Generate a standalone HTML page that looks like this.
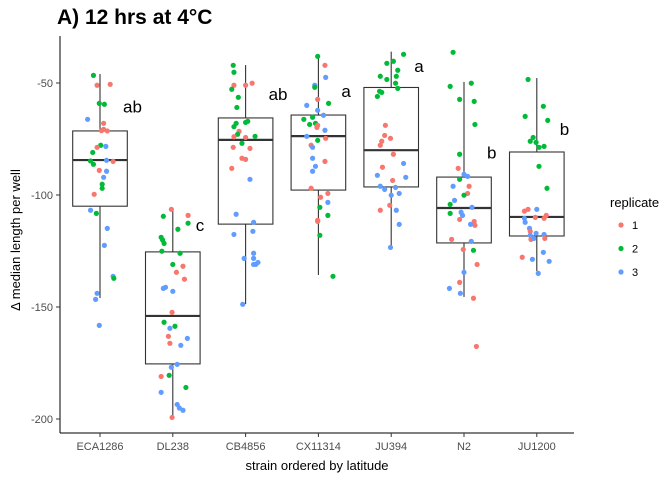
<!DOCTYPE html>
<html><head><meta charset="utf-8"><style>
body{margin:0;background:#fff;}
svg text{font-family:"Liberation Sans",sans-serif;}
</style></head><body>
<svg id="c" width="672" height="480" xmlns="http://www.w3.org/2000/svg"></svg>
<script>
const strains=["ECA1286","DL238","CB4856","CX11314","JU394","N2","JU1200"];
const yTicks=[-50,-100,-150,-200];
const whiskerHi=[-46,-107,-42,-38,-36,-49.5,-47.8];
const q3=[-71.4,-125.4,-65.6,-64.3,-52,-92,-80.8];
const med=[-84.4,-154,-75.4,-73.7,-80,-105.8,-109.8];
const q1=[-105,-175.4,-113,-97.8,-96.4,-121.4,-118.3];
const whiskerLo=[-146,-199.5,-148.7,-135.7,-123,-145.5,-134];
const letters=["ab","c","ab","a","a","b","b"];
const letterVal=[-60.5,-113.5,-55,-53.5,-42.5,-81,-70.5];
const repLabels=["1","2","3"];
const ptVal=[
[-46.6,-51,-50.6,-59.1,-59.5,-66.2,-68,-71.3,-70.7,-71.4,-77.8,-78.7,-78.3,-81,-84.5,-85,-84.8,-86.3,-89,-89.4,-92.1,-95.2,-97,-99.7,-106.8,-108.2,-114.9,-122.5,-136.3,-137.2,-143.9,-146.6,-158.2],
[-106.4,-109.1,-109.5,-112.6,-115.3,-118.9,-120.1,-121.6,-125.1,-126,-131,-131.8,-134.5,-137.6,-141.7,-141.2,-143,-152.4,-156.8,-158.6,-159.5,-163.1,-164,-166.2,-167.1,-175.6,-176.9,-181,-180.5,-185.9,-188.1,-193.5,-195.1,-196.1,-199.3],
[-42.1,-45.2,-51,-51,-50.1,-52.8,-56.4,-60.9,-67.6,-67.1,-68,-69.5,-71.6,-72.9,-74,-74.3,-73.8,-76.9,-78.7,-79.2,-83.6,-84.1,-88.1,-93,-108.6,-112.2,-117.6,-116.2,-128.3,-126,-128.3,-130.1,-131,-131,-148.8],
[-38.1,-42.1,-47.5,-51,-51.9,-57.3,-59.1,-60,-62.2,-64.4,-66.2,-65.3,-68.5,-68,-68.9,-69.8,-71.1,-73.8,-74.7,-75.6,-77.8,-78.7,-83.6,-85,-87.2,-89.4,-97,-101,-99.3,-103.3,-105.5,-109.1,-111.3,-111.8,-118,-136.3],
[-37.2,-41.2,-40.3,-44.3,-47,-47,-48.4,-50.1,-52.4,-53.7,-54.2,-56,-68.9,-73.4,-74.7,-76,-77.8,-81.8,-87.6,-85.9,-91.2,-92.1,-93.5,-96.1,-97.5,-96.6,-99.3,-100.1,-104.6,-106.8,-106.8,-113.1,-123.4],
[-36.3,-50.1,-51.5,-57.3,-58.2,-68.5,-81.8,-88.1,-90.8,-91.7,-93,-96.1,-96.1,-99.3,-100.1,-102.4,-104.2,-105.5,-108.2,-107.7,-109.1,-110.9,-111.8,-113.5,-113.1,-119.8,-120.7,-124.3,-124.7,-131,-134.5,-139,-141.7,-143.9,-146.1,-167.6],
[-48.4,-60.4,-64.9,-66.7,-74.3,-76,-76.5,-78.7,-78.3,-87.2,-97,-106.4,-107.2,-106.4,-109.1,-110,-110.4,-110.4,-112.2,-114.9,-116.2,-117.1,-118,-117.6,-119.8,-119.4,-119.4,-125.6,-127.8,-128.7,-129.6,-135]];
const ptJit=[
[-.09,-.04,.14,-.01,.06,-.17,.05,.02,.05,.10,.01,-.04,.08,-.10,.09,.18,-.13,-.09,-.01,.09,.05,.03,.03,-.08,-.13,-.05,.10,.06,.18,.19,-.04,-.06,-.01],
[-.02,.21,-.13,.21,.07,-.16,-.14,-.12,-.15,.10,0,.14,.05,.16,-.13,-.10,0,-.01,-.12,.03,-.04,-.06,.20,-.04,.11,.06,-.02,-.16,-.05,.18,-.16,.06,.09,.14,-.01],
[-.17,-.16,-.16,0,.09,-.19,-.10,-.12,0,.03,-.13,-.16,-.09,-.11,-.16,0,.13,-.05,-.17,.06,-.05,0,-.19,.06,-.13,.11,-.16,.10,-.02,.11,.11,.17,.11,.14,-.04],
[-.01,.09,.10,-.05,-.05,-.01,.14,-.16,-.01,.07,-.20,-.08,-.12,-.04,-.01,-.02,.09,-.16,.10,-.01,-.10,-.08,-.08,.09,-.04,-.08,-.10,.03,.13,.13,.02,.13,-.01,-.01,.02,.20],
[.17,-.06,.03,.09,-.15,.07,-.06,.06,.09,-.16,-.13,-.19,-.08,-.09,-.01,-.13,-.15,.03,-.12,.17,-.19,.20,.02,-.15,-.09,.06,.11,0,-.02,-.15,.07,.11,-.01],
[-.15,.10,-.19,-.06,.14,.15,-.06,-.08,0,.05,-.06,.07,-.15,.05,0,-.13,-.19,.11,-.19,-.04,-.02,-.06,.14,.15,.09,-.17,.10,-.01,.13,.18,0,-.06,-.20,-.05,.13,.17],
[-.12,.09,-.16,.15,-.05,-.09,-.01,.03,.10,.03,.14,-.12,-.17,0,.13,-.02,.10,-.17,-.16,-.10,-.09,-.01,-.09,.10,-.08,-.04,.11,.09,-.20,-.06,.17,.02]];
const ptRep=[
"grrggbrrrrgrbgbrggrbbggrbgbbbgbbb",
"rrgggggggggrrrbbbrggbrbrbbbrggbbbbr",
"ggrrrgggggggrgrrggrrrrrbbbbbbbbbbbb",
"grbbgrgbbbggggrrbbrgrbbrbbrrrbggrrgg",
"gggggggggggg"+"rrrrrrrbbbrbbbbbrrbbb",
"gggggggrbbgrbrgbgbgbbrrrbrbrgrbrbbrr",
"ggggggggggg"+"rrbrrrbbbrbbbrbrbrbbb"];
const colors={r:"#F8766D",g:"#00BA38",b:"#619CFF"};
const repKeys=["r","g","b"];
const NS="http://www.w3.org/2000/svg";
const svg=document.getElementById("c");
const xs=i=>100+i*72.8, band=72.8;
const ys=v=>83+(-50-v)*2.24;
function mk(t,a,p){const e=document.createElementNS(NS,t);for(const k in a)e.setAttribute(k,a[k]);(p||svg).appendChild(e);return e;}
let t=mk("text",{x:57,y:24,"font-size":21,"font-weight":"bold",fill:"#000"});t.textContent="A) 12 hrs at 4°C";


let ya=mk("line",{x1:60,y1:36,x2:60,y2:433,stroke:"#000","stroke-width":1});


let xa=mk("line",{x1:60,y1:433,x2:574,y2:433,stroke:"#000","stroke-width":1});


yTicks.forEach(v=>{
 let l=mk("line",{x1:56,x2:60,y1:ys(v),y2:ys(v),stroke:"#333"});
 
 
 let tx=mk("text",{x:53,y:ys(v)+4,"font-size":11,fill:"#4d4d4d","text-anchor":"end"});tx.textContent=v;
 
 
});
strains.forEach((s,i)=>{
 let x=xs(i);
 let l=mk("line",{x1:x,x2:x,y1:433,y2:437,stroke:"#333"});
 
 
 let tx=mk("text",{x:x,y:450,"font-size":11,fill:"#4d4d4d","text-anchor":"middle"});tx.textContent=s;
 
 
 let g=mk("g",{});
 
 
 const hw=band*0.375;
 mk("line",{x1:x,x2:x,y1:ys(whiskerHi[i]),y2:ys(q3[i]),stroke:"#333","stroke-width":1.1},g);
 mk("line",{x1:x,x2:x,y1:ys(q1[i]),y2:ys(whiskerLo[i]),stroke:"#333","stroke-width":1.1},g);
 mk("rect",{x:x-hw,y:ys(q3[i]),width:2*hw,height:ys(q1[i])-ys(q3[i]),fill:"#fff",stroke:"#333","stroke-width":1.1},g);
 mk("line",{x1:x-hw,x2:x+hw,y1:ys(med[i]),y2:ys(med[i]),stroke:"#333","stroke-width":2.2},g);
});
strains.forEach((s,i)=>{
 ptVal[i].forEach((v,k)=>{
  let c=mk("circle",{cx:xs(i)+ptJit[i][k]*band,cy:ys(v),r:2.6,fill:colors[ptRep[i][k]]});
  
  
 });
 let lt=mk("text",{x:xs(i)+23,y:ys(letterVal[i])+6,"font-size":17,fill:"#000"});lt.textContent=letters[i];
 
 
});
let xt=mk("text",{x:317,y:470,"font-size":13,fill:"#000","text-anchor":"middle"});xt.textContent="strain ordered by latitude";


let ytt=mk("text",{x:0,y:0,"font-size":13,fill:"#000","text-anchor":"middle",transform:"translate(20,240) rotate(-90)"});ytt.textContent="Δ median length per well";


let lg=mk("text",{x:610,y:207,"font-size":13,fill:"#000"});lg.textContent="replicate";


repLabels.forEach((r,k)=>{
 let y=225+k*23.5;
 let c=mk("circle",{cx:621,cy:y,r:2.6,fill:colors[repKeys[k]]});
 
 
 let tx=mk("text",{x:632,y:y+4,"font-size":11,fill:"#000"});tx.textContent=r;
 
 
});
</script>
</body></html>
